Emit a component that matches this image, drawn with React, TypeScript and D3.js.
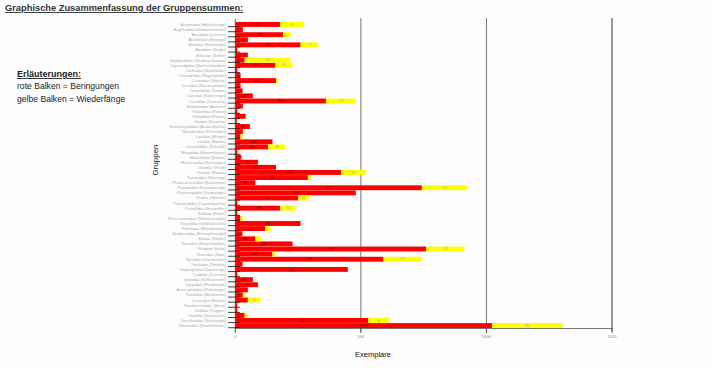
import * as d3 from "d3";
import React, { useEffect, useRef } from "react";

// Gruppen (Vogelfamilien), von oben nach unten
const gruppen = [
  "Accipitridae (Habichtartige)", "Aegithalidae (Schwanzmeisen)", "Alaudidae (Lerchen)",
  "Alcedinidae (Eisvögel)", "Anatidae (Entenvögel)", "Apodidae (Segler)",
  "Ardeidae (Reiher)", "Bombycillidae (Seidenschwänze)", "Caprimulgidae (Nachtschwalben)",
  "Certhiidae (Baumläufer)", "Charadriidae (Regenpfeifer)", "Ciconiidae (Störche)",
  "Cinclidae (Wasseramseln)", "Columbidae (Tauben)", "Corvidae (Rabenvögel)",
  "Cuculidae (Kuckucke)", "Emberizidae (Ammern)", "Falconidae (Falken)",
  "Fringillidae (Finken)", "Gruidae (Kraniche)", "Haematopodidae (Austernfischer)",
  "Hirundinidae (Schwalben)", "Laniidae (Würger)", "Laridae (Möwen)",
  "Locustellidae (Schwirle)", "Meropidae (Bienenfresser)", "Motacillidae (Stelzen)",
  "Muscicapidae (Schnäpper)", "Oriolidae (Pirole)", "Paridae (Meisen)",
  "Passeridae (Sperlinge)", "Phalacrocoracidae (Kormorane)", "Phasianidae (Fasanenartige)",
  "Phylloscopidae (Laubsänger)", "Picidae (Spechte)", "Podicipedidae (Lappentaucher)",
  "Prunellidae (Braunellen)", "Rallidae (Rallen)", "Recurvirostridae (Säbelschnäbler)",
  "Regulidae (Goldhähnchen)", "Remizidae (Beutelmeisen)", "Scolopacidae (Schnepfenvögel)",
  "Sittidae (Kleiber)", "Sternidae (Seeschwalben)", "Strigidae (Eulen)",
  "Sturnidae (Stare)", "Sylviidae (Grasmücken)", "Timaliidae (Timalien)",
  "Troglodytidae (Zaunkönige)", "Turdidae (Drosseln)", "Tytonidae (Schleiereulen)",
  "Upupidae (Wiedehopfe)", "Acrocephalidae (Rohrsänger)", "Panuridae (Bartmeisen)",
  "Coraciidae (Racken)", "Threskiornithidae (Ibisse)", "Otididae (Trappen)",
  "Gaviidae (Seetaucher)", "Procellariidae (Sturmvögel)", "Tetraonidae (Raufußhühner)"
];

// rote Balken = Beringungen
const beringungen = [
  179, 30, 190, 50, 260, 8, 50, 37, 160, 8,
  21, 162, 21, 29, 70, 361, 30, 8, 41, 6,
  58, 30, 21, 148, 131, 8, 24, 90, 162, 422,
  289, 80, 743, 480, 251, 8, 179, 8, 21, 260,
  119, 28, 80, 228, 760, 148, 590, 29, 448, 8,
  70, 90, 50, 30, 50, 8, 8, 37, 530, 1022
];

// gelbe Balken = Wiederfänge
const wiederfaenge = [
  93, 0, 30, 0, 70, 0, 0, 183, 69, 0,
  0, 7, 0, 0, 0, 119, 0, 0, 0, 0,
  0, 0, 9, 0, 68, 0, 0, 0, 0, 98,
  11, 0, 179, 0, 42, 0, 61, 0, 9, 0,
  21, 0, 21, 0, 152, 12, 152, 0, 0, 0,
  0, 0, 0, 11, 50, 0, 0, 12, 81, 281
];

const xTicks = [0, 500, 1000, 1500];

const Chart = () => {
  const svgRef = useRef<SVGSVGElement>(null);

  useEffect(() => {
    const w = 712;
    const h = 368;
    const font = "Arial, 'Liberation Sans', sans-serif";

    const data = gruppen.map((g, i) => ({ g, r: beringungen[i], y: wiederfaenge[i] }));

    const x = d3.scaleLinear().domain([0, 1500]).range([235.3, 612]);
    const y = d3.scaleBand().domain(gruppen).range([22, 328]).paddingInner(0.04);

    const svg = d3.select(svgRef.current).attr("width", w).attr("height", h);
    svg.selectAll("*").remove();

    svg.append("rect").attr("width", w).attr("height", h).attr("fill", "#fdfdfd");

    // Titel
    svg.append("text")
      .attr("x", 5).attr("y", 11)
      .attr("font-family", font).attr("font-size", 9.3).attr("font-weight", "bold")
      .attr("fill", "#333").attr("text-decoration", "underline")
      .text("Graphische Zusammenfassung der Gruppensummen:");

    // Erläuterungen
    const leg = svg.append("g").attr("font-family", font).attr("fill", "#222");
    leg.append("text").attr("x", 17).attr("y", 77).attr("font-size", 9)
      .attr("font-weight", "bold").attr("text-decoration", "underline").text("Erläuterungen:");
    leg.append("text").attr("x", 17).attr("y", 89).attr("font-size", 8.6).text("rote Balken = Beringungen");
    leg.append("text").attr("x", 17).attr("y", 102).attr("font-size", 8.6).text("gelbe Balken = Wiederfänge");

    // Gitterlinien
    svg.append("g").selectAll("line")
      .data(xTicks.slice(1))
      .enter().append("line")
      .attr("x1", d => x(d)).attr("x2", d => x(d))
      .attr("y1", 18).attr("y2", 331)
      .attr("stroke", d => (d === 1500 ? "#333" : "#777"))
      .attr("stroke-width", 1);

    // Balken
    const rows = svg.append("g");
    rows.selectAll("rect.rot")
      .data(data).enter().append("rect")
      .attr("class", "rot")
      .attr("x", x(0))
      .attr("y", d => y(d.g)!)
      .attr("width", d => x(d.r) - x(0))
      .attr("height", y.bandwidth())
      .attr("fill", "#ff0000");
    rows.selectAll("rect.gelb")
      .data(data.filter(d => d.y > 0)).enter().append("rect")
      .attr("class", "gelb")
      .attr("x", d => x(d.r))
      .attr("y", d => y(d.g)!)
      .attr("width", d => x(d.r + d.y) - x(d.r))
      .attr("height", y.bandwidth())
      .attr("fill", "#ffff00");

    // Werte in den Balken
    rows.selectAll("text.rv")
      .data(data.filter(d => x(d.r) - x(0) > 14)).enter().append("text")
      .attr("class", "rv")
      .attr("x", d => (x(0) + x(d.r)) / 2)
      .attr("y", d => y(d.g)! + y.bandwidth() / 2 + 1.2)
      .attr("text-anchor", "middle")
      .attr("font-family", font).attr("font-size", 3.2).attr("fill", "#600")
      .text(d => d.r);
    rows.selectAll("text.yv")
      .data(data.filter(d => x(d.r + d.y) - x(d.r) > 10)).enter().append("text")
      .attr("class", "yv")
      .attr("x", d => (x(d.r) + x(d.r + d.y)) / 2)
      .attr("y", d => y(d.g)! + y.bandwidth() / 2 + 1.2)
      .attr("text-anchor", "middle")
      .attr("font-family", font).attr("font-size", 3.2).attr("fill", "#aa9")
      .text(d => d.y);

    // y-Achse
    svg.append("line")
      .attr("x1", x(0)).attr("x2", x(0)).attr("y1", 19).attr("y2", 329)
      .attr("stroke", "#555");
    svg.append("g").selectAll("line")
      .data(gruppen).enter().append("line")
      .attr("x1", 228).attr("x2", 240)
      .attr("y1", d => y(d)! + y.step() - 0.5).attr("y2", d => y(d)! + y.step() - 0.5)
      .attr("stroke", "#111").attr("stroke-width", 0.8);
    svg.append("g").selectAll("text")
      .data(gruppen).enter().append("text")
      .attr("x", 226)
      .attr("y", d => y(d)! + y.bandwidth() / 2 + 1.5)
      .attr("text-anchor", "end")
      .attr("font-family", font).attr("font-size", 3.8).attr("fill", "#aaa")
      .text(d => d);

    // x-Achse
    svg.append("line")
      .attr("x1", x(0)).attr("x2", x(1500)).attr("y1", 328.5).attr("y2", 328.5)
      .attr("stroke", "#777");
    const xt = svg.append("g").selectAll("g").data(xTicks).enter().append("g");
    xt.append("line")
      .attr("x1", d => x(d)).attr("x2", d => x(d)).attr("y1", 328).attr("y2", 333)
      .attr("stroke", "#555");
    xt.append("text")
      .attr("x", d => x(d)).attr("y", 338)
      .attr("text-anchor", "middle")
      .attr("font-family", font).attr("font-size", 4).attr("fill", "#888")
      .text(d => d);

    // Achsentitel
    svg.append("text")
      .attr("x", 373).attr("y", 357)
      .attr("text-anchor", "middle")
      .attr("font-family", font).attr("font-size", 7.5).attr("fill", "#111")
      .text("Exemplare");
    svg.append("text")
      .attr("transform", "translate(158, 160) rotate(-90)")
      .attr("text-anchor", "middle")
      .attr("font-family", font).attr("font-size", 8).attr("fill", "#111")
      .text("Gruppen");
  }, []);

  return <svg ref={svgRef} style={{ position: "absolute", left: 0, top: 0 }} />;
};

export default function App() {
  return <Chart />;
}
